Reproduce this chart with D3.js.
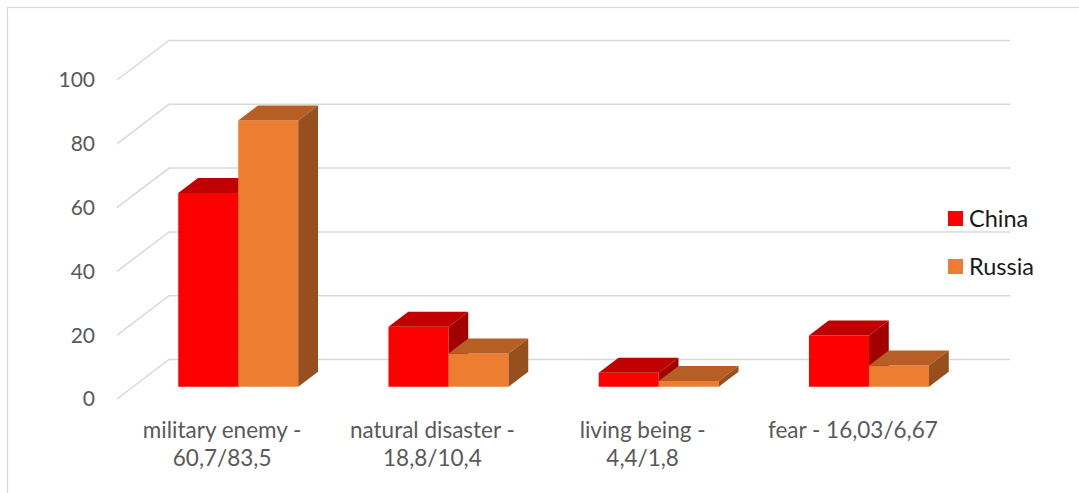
<!DOCTYPE html>
<html>
<head>
<meta charset="utf-8">
<script src="https://cdn.jsdelivr.net/npm/d3@7/dist/d3.min.js"></script>
<style>
  html, body { margin: 0; padding: 0; background: #fff; }
  svg { display: block; font-family: Lato, "Open Sans", sans-serif; }
</style>
</head>
<body>
<svg id="chart" width="1079" height="493"></svg>
<script>
// ---- data ----
const categories = ["military enemy", "natural disaster", "living being", "fear"];
const categoryLabels = [
  ["military enemy -", "60,7/83,5"],
  ["natural disaster -", "18,8/10,4"],
  ["living being -", "4,4/1,8"],
  ["fear - 16,03/6,67"]
];
const seriesNames = ["China", "Russia"];
const chinaValues = [60.7, 18.8, 4.4, 16.03];
const russiaValues = [83.5, 10.4, 1.8, 6.67];
const yTicks = [0, 20, 40, 60, 80, 100];

const seriesValues = [chinaValues, russiaValues];
const colors = {
  China:  { front: "#FF0000", top: "#C00000", side: "#A20000" },
  Russia: { front: "#ED7D31", top: "#B65E24", side: "#974F1D" }
};

const svg = d3.select("#chart");

// frame
svg.append("rect")
  .attr("x", 7.5).attr("y", 7.5)
  .attr("width", 1200).attr("height", 700)
  .attr("fill", "none").attr("stroke", "#d9d9d9").attr("stroke-width", 1.2);

// scales (front plane)
const x0 = d3.scaleBand().domain(categories).range([117, 958]).padding(0);
const barW = 60;
const outerPad = (x0.bandwidth() / barW - seriesNames.length) / 2;
const x1 = d3.scaleBand().domain(seriesNames).range([0, x0.bandwidth()])
  .paddingInner(0).paddingOuter(outerPad);
const y = d3.scaleLinear().domain([0, 100]).range([399, 80]);

const DX = 52, DY = -39.5;
const proj = (x, v, z) => [x + z * DX, y(v) + z * DY];
const z0 = 0.31, z1 = 0.69;

// gridlines: side diagonal + back wall horizontal
const gridG = svg.append("g");
yTicks.forEach(t => {
  const pts = [proj(x0.range()[0], t, 0), proj(x0.range()[0], t, 1), proj(x0.range()[1], t, 1)];
  gridG.append("polyline")
    .attr("points", pts.map(p => p.join(",")).join(" "))
    .attr("fill", "none").attr("stroke", "#d9d9d9").attr("stroke-width", 1.5);
});

// y tick labels
svg.append("g").selectAll("text").data(yTicks).join("text")
  .attr("x", 95).attr("y", d => y(d))
  .attr("dy", "0.35em")
  .attr("text-anchor", "end")
  .attr("fill", "#595959")
  .attr("font-size", 21)
  .text(d => d);

// bars
const poly = pts => pts.map(p => p.join(",")).join(" ");
const barsG = svg.append("g");
categories.forEach((c, ci) => {
  seriesNames.forEach((s, si) => {
    const v = seriesValues[si][ci];
    const bx = x0(c) + x1(s);
    const bw = x1.bandwidth();
    const col = colors[s];
    const g = barsG.append("g");
    // front
    g.append("polygon").attr("points", poly([
      proj(bx, v, z0), proj(bx + bw, v, z0), proj(bx + bw, 0, z0), proj(bx, 0, z0)
    ])).attr("fill", col.front);
    // top
    g.append("polygon").attr("points", poly([
      proj(bx, v, z0), proj(bx + bw, v, z0), proj(bx + bw, v, z1), proj(bx, v, z1)
    ])).attr("fill", col.top);
    // side
    g.append("polygon").attr("points", poly([
      proj(bx + bw, v, z0), proj(bx + bw, v, z1), proj(bx + bw, 0, z1), proj(bx + bw, 0, z0)
    ])).attr("fill", col.side);
  });
});

// category labels
const catG = svg.append("g");
categories.forEach((c, ci) => {
  const cx = x0(c) + x0.bandwidth() / 2;
  const t = catG.append("text")
    .attr("text-anchor", "middle")
    .attr("fill", "#595959")
    .attr("font-size", 22.5);
  categoryLabels[ci].forEach((line, li) => {
    t.append("tspan").attr("x", cx).attr("y", 438 + li * 28).text(line);
  });
});

// legend
const legend = svg.append("g");
seriesNames.forEach((s, i) => {
  const ly = 211 + i * 48;
  legend.append("rect").attr("x", 948).attr("y", ly).attr("width", 15).attr("height", 15)
    .attr("fill", colors[s].front);
  legend.append("text").attr("x", 969).attr("y", ly + 7.5).attr("dy", "0.35em")
    .attr("fill", "#1a1a1a").attr("font-size", 23.5).text(s);
});
</script>
</body>
</html>
